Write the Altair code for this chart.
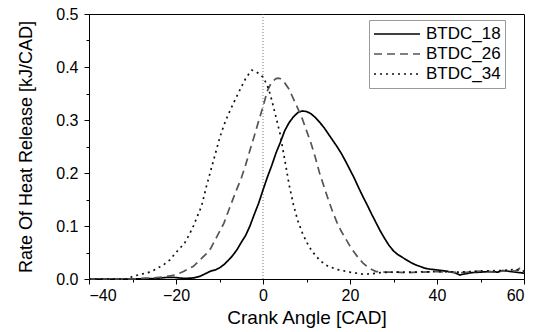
import altair as alt
import pandas as pd

# ---- data ----
x_18 = [-40, -30, -25, -22, -20.5, -18, -16, -14.5, -13, -12, -11, -10, -9, -8, -7, -6, -5, -4, -3, -2, -1,
        0, 1, 2, 3, 4, 5, 6, 7, 8, 9, 10, 11, 12, 13, 14, 15, 16, 17, 18, 19, 20, 21, 22, 23, 24, 25,
        26, 27, 28, 29, 30, 31, 32, 33, 34, 35, 36, 37, 38, 40, 42, 44, 45.3, 46, 48, 50, 52, 54, 55,
        57, 58, 60]
y_18 = [0.0, 0.0, 0.001, 0.003, 0.003, 0.001, 0.002, 0.005, 0.011, 0.015, 0.017, 0.021, 0.027, 0.035,
        0.044, 0.055, 0.069, 0.082, 0.100, 0.122, 0.143,
        0.168, 0.192, 0.214, 0.238, 0.258, 0.280, 0.295, 0.306, 0.314, 0.317, 0.316, 0.312, 0.305,
        0.296, 0.286, 0.274, 0.262, 0.250, 0.237, 0.222, 0.206, 0.190, 0.172, 0.155, 0.139, 0.122,
        0.106, 0.090, 0.076, 0.063, 0.053, 0.046, 0.041, 0.036, 0.031, 0.027, 0.024, 0.021, 0.019,
        0.017, 0.015, 0.012, 0.0075, 0.009, 0.012, 0.013, 0.014, 0.013, 0.016, 0.014, 0.013, 0.011]

x_26 = [-40, -30, -28, -25, -22, -20, -18.3, -16, -14.5, -13, -12, -10.6, -9, -7.6, -6, -5, -4, -3, -2,
        -1, 0, 1, 2, 3, 3.5, 4, 5, 6, 7, 8, 9, 10, 11, 12, 13, 14, 15, 16, 17, 18, 19, 20, 21, 22,
        23, 24, 25, 26, 28, 30, 33, 36, 40, 43, 46, 50, 53, 56, 58, 59, 60]
y_26 = [0.0, 0.0, 0.001, 0.002, 0.005, 0.008, 0.014, 0.024, 0.036, 0.048, 0.058, 0.080, 0.105, 0.136,
        0.170, 0.190, 0.215, 0.243, 0.270, 0.298, 0.325, 0.355, 0.372, 0.378, 0.379, 0.378, 0.370,
        0.358, 0.340, 0.322, 0.303, 0.280, 0.257, 0.230, 0.200, 0.175, 0.150, 0.127, 0.107, 0.090,
        0.076, 0.062, 0.050, 0.039, 0.030, 0.023, 0.018, 0.014, 0.013, 0.013, 0.012, 0.013, 0.014,
        0.013, 0.012, 0.015, 0.013, 0.016, 0.015, 0.020, 0.013]

x_34 = [-40, -31, -30, -28, -26, -25, -23, -21.4, -20, -18, -17, -16, -15, -14.5, -14, -13, -12, -11,
        -10, -9, -8, -7, -6, -5, -4, -3, -2.6, -2, -1, 0, 1, 1.6, 2, 3, 3.9, 5, 6, 7, 8, 9, 10, 11,
        12, 13, 14, 15, 17, 20, 23, 25, 27, 30, 35, 40, 45, 50, 55, 58, 60]
y_34 = [0.0, 0.0, 0.005, 0.009, 0.013, 0.017, 0.026, 0.036, 0.050, 0.068, 0.083, 0.100, 0.120, 0.130,
        0.142, 0.175, 0.205, 0.235, 0.265, 0.290, 0.310, 0.328, 0.345, 0.362, 0.378, 0.390, 0.394,
        0.393, 0.388, 0.381, 0.365, 0.350, 0.338, 0.305, 0.275, 0.225, 0.178, 0.140, 0.110, 0.088,
        0.070, 0.056, 0.045, 0.036, 0.029, 0.024, 0.018, 0.013, 0.009, 0.010, 0.012, 0.013, 0.013,
        0.014, 0.013, 0.015, 0.016, 0.018, 0.015]

series_names = ["BTDC_18", "BTDC_26", "BTDC_34"]
x_ticks = [-40, -30, -20, -10, 0, 10, 20, 30, 40, 50, 60]
y_ticks = [0.0, 0.05, 0.1, 0.15, 0.2, 0.25, 0.3, 0.35, 0.4, 0.45, 0.5]
ref_x = [0]

rows = []
for name, xs, ys in zip(series_names, [x_18, x_26, x_34], [y_18, y_26, y_34]):
    for i, (a, b) in enumerate(zip(xs, ys)):
        rows.append({"series": name, "angle": a, "hrr": b, "order": i})
df = pd.DataFrame(rows)

FONT = "Liberation Sans"

x_scale = alt.Scale(domain=[-40, 60], nice=False, zero=False)
y_scale = alt.Scale(domain=[0, 0.5], nice=False)

legend_kw = dict(title=None, orient="none", legendX=280, legendY=6,
                 symbolType="stroke", symbolSize=2116, symbolStrokeWidth=1.7,
                 clipHeight=20, rowPadding=0, labelFontSize=17, labelOffset=5,
                 padding=4, strokeColor="#999999", fillColor="white",
                 labelFont=FONT, labelColor="black")

lines = alt.Chart(df).mark_line(strokeWidth=1.7).encode(
    x=alt.X("angle:Q", scale=x_scale, title="Crank Angle [CAD]",
            axis=alt.Axis(values=x_ticks, grid=False,
                          labelExpr="datum.value % 20 === 0 ? datum.label : ''",
                          tickSize={"condition": {"test": "datum.value % 20 === 0", "value": 5}, "value": 3},
                          labelOverlap=False, labelPadding=3, titlePadding=5,
                          labelFontSize=16, titleFontSize=19)),
    y=alt.Y("hrr:Q", scale=y_scale, title="Rate Of Heat Release [kJ/CAD]",
            axis=alt.Axis(values=y_ticks, grid=False, format=".1f",
                          labelExpr="round(datum.value*100) % 10 === 0 ? datum.label : ''",
                          tickSize={"condition": {"test": "round(datum.value*100) % 10 === 0", "value": 5}, "value": 3},
                          labelOverlap=False, labelPadding=6, titlePadding=20,
                          labelFontSize=16, titleFontSize=18)),
    color=alt.Color("series:N", scale=alt.Scale(domain=series_names, range=["#000000", "#555555", "#111111"]),
                    legend=alt.Legend(**legend_kw)),
    strokeDash=alt.StrokeDash("series:N", scale=alt.Scale(domain=series_names,
                                                          range=[[1, 0], [8, 5], [2, 4]]),
                              legend=alt.Legend(**legend_kw)),
    order="order:Q",
)

rule = alt.Chart(pd.DataFrame({"x0": ref_x})).mark_rule(
    color="#555555", strokeWidth=0.8, strokeDash=[1, 2]
).encode(x=alt.X("x0:Q", scale=x_scale))

chart = alt.layer(rule, lines).properties(
    width=435, height=265,
    autosize=alt.AutoSizeParams(type="none"),
    padding={"left": 89, "top": 14, "right": 19, "bottom": 53},
    background="white",
).configure_view(
    stroke="black", strokeWidth=1
).configure_axis(
    domainColor="black", tickColor="black", labelColor="black", titleColor="black",
    labelFont=FONT, titleFont=FONT, titleFontWeight="normal", domainWidth=1, tickWidth=1,
)

chart.save("out.html", embed_options={"renderer": "svg", "actions": False})
